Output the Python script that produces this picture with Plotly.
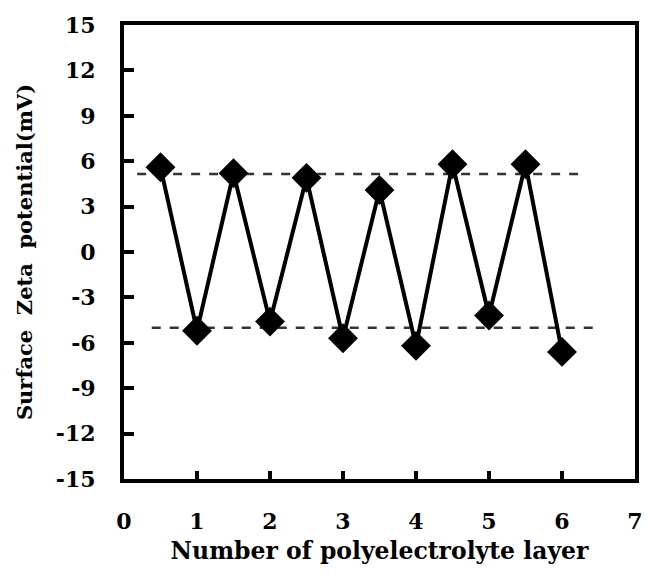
import plotly.graph_objects as go

layers = [0.5, 1, 1.5, 2, 2.5, 3, 3.5, 4, 4.5, 5, 5.5, 6]
zeta = [5.6, -5.2, 5.2, -4.6, 4.9, -5.7, 4.1, -6.2, 5.8, -4.2, 5.8, -6.6]

upper_x = [0.18, 6.28]
upper_y = [5.15, 5.15]
lower_x = [0.38, 6.49]
lower_y = [-5.0, -5.0]

xticks = [0, 1, 2, 3, 4, 5, 6, 7]
yticks = [-15, -12, -9, -6, -3, 0, 3, 6, 9, 12, 15]

font = "DejaVu Serif, serif"

fig = go.Figure()
fig.add_trace(go.Scatter(x=upper_x, y=upper_y, mode="lines",
                         line=dict(color="#333333", width=2.5, dash="dash"),
                         showlegend=False, hoverinfo="skip"))
fig.add_trace(go.Scatter(x=lower_x, y=lower_y, mode="lines",
                         line=dict(color="#333333", width=2.5, dash="dash"),
                         showlegend=False, hoverinfo="skip"))
fig.add_trace(go.Scatter(x=layers, y=zeta, mode="lines+markers",
                         line=dict(color="black", width=4),
                         marker=dict(symbol="diamond", size=23, color="black"),
                         showlegend=False))

fig.update_layout(
    width=647, height=575,
    margin=dict(l=124, r=4, t=25, b=96),
    plot_bgcolor="white", paper_bgcolor="white",
    font=dict(family=font, color="black"),
)
fig.update_xaxes(
    range=[0, 7], tickvals=xticks, ticktext=["<b>%d</b>" % v for v in xticks],
    showgrid=False, zeroline=False,
    showline=True, linecolor="black", linewidth=4, mirror=True,
    ticks="inside", ticklen=8, tickwidth=4, tickcolor="black",
    ticklabelstandoff=20,
    tickfont=dict(family=font, size=22, color="black"),
    title=dict(text="<b>Number of polyelectrolyte layer</b>",
               font=dict(family=font, size=23.5, color="black"), standoff=10),
)
fig.update_yaxes(
    range=[-15, 15], tickvals=yticks, ticktext=["<b>%d</b>" % v for v in yticks],
    showgrid=False, zeroline=False,
    showline=True, linecolor="black", linewidth=4, mirror=True,
    ticks="inside", ticklen=10, tickwidth=4, tickcolor="black",
    ticklabelstandoff=20,
    tickfont=dict(family=font, size=22, color="black"),
    title=dict(text="<b>Surface\u00a0 Zeta\u00a0 potential(mV)</b>",
               font=dict(family=font, size=21, color="black"), standoff=18),
)
fig.write_html("out.html")
